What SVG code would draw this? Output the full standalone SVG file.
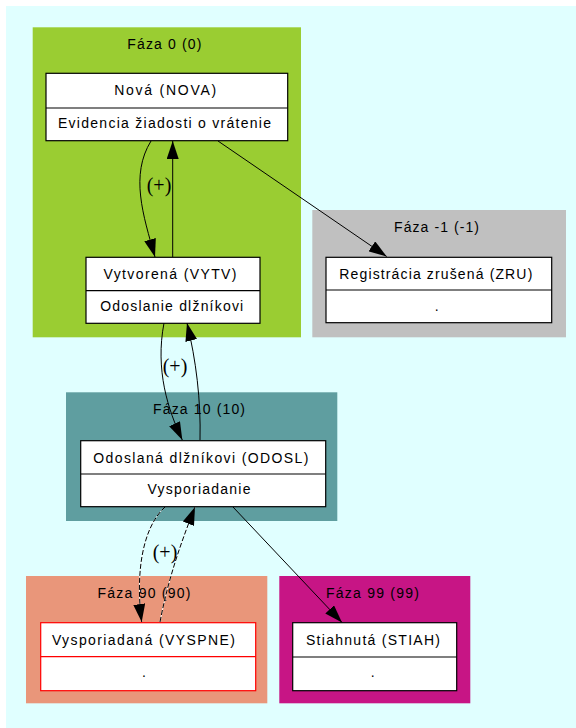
<svg xmlns="http://www.w3.org/2000/svg" width="576" height="728" viewBox="0 0 576 728">
  <style>
    .bg { fill: #e0ffff; }
    .title { font-family: "Liberation Sans", Arial, sans-serif; font-size: 14px; fill: #000; text-anchor: middle; }
    .box { fill: #ffffff; stroke: #000; stroke-width: 1.2; }
    .box-red { fill: #ffffff; stroke: #ff0000; stroke-width: 1.2; }
    .sep { stroke: #000; stroke-width: 1.2; }
    .sep-red { stroke: #ff0000; stroke-width: 1.2; }
    .lbl { font-family: "Liberation Sans", Arial, sans-serif; font-size: 14px; fill: #000; text-anchor: middle; }
    .edge { fill: none; stroke: #000; stroke-width: 1; }
    .under { fill: none; stroke: #ffffff; stroke-width: 1; }
    .dash { stroke-dasharray: 5 2; }
    .elbl { font-family: "Liberation Serif", "Times New Roman", serif; font-size: 20px; fill: #000; text-anchor: middle; }
  </style>
  <defs>
    <marker id="arrow" markerUnits="userSpaceOnUse" markerWidth="18" markerHeight="12" refX="18" refY="6" orient="auto">
      <path d="M0,0 L18,6 L0,12 z" fill="#000"/>
    </marker>
  </defs>

  <rect class="bg" x="6" y="6" width="570" height="722"/>

  <!-- phase clusters -->
  <g id="cluster-0">
    <rect x="32.7" y="27.3" width="268.3" height="310" fill="#9acd32"/>
    <text class="title" x="164.3" y="49.3" textLength="74" lengthAdjust="spacing">Fáza 0 (0)</text>
  </g>
  <g id="cluster-m1">
    <rect x="312.3" y="210" width="253.7" height="127.3" fill="#c0c0c0"/>
    <text class="title" x="436.5" y="232" textLength="85" lengthAdjust="spacing">Fáza -1 (-1)</text>
  </g>
  <g id="cluster-10">
    <rect x="66" y="392.3" width="271.3" height="128.7" fill="#5f9ea0"/>
    <text class="title" x="199" y="414.3" textLength="92" lengthAdjust="spacing">Fáza 10 (10)</text>
  </g>
  <g id="cluster-90">
    <rect x="26" y="576" width="241.3" height="127.3" fill="#e9967a"/>
    <text class="title" x="144" y="598" textLength="93" lengthAdjust="spacing">Fáza 90 (90)</text>
  </g>
  <g id="cluster-99">
    <rect x="279.3" y="576" width="191" height="127.3" fill="#c71585"/>
    <text class="title" x="372.5" y="598" textLength="93" lengthAdjust="spacing">Fáza 99 (99)</text>
  </g>

  <!-- states -->
  <g id="NOVA">
    <rect class="box" x="46" y="73.3" width="241.7" height="67.4"/>
    <line class="sep" x1="46" y1="108" x2="287.7" y2="108"/>
    <text class="lbl" x="165.2" y="94.5" textLength="102" lengthAdjust="spacing">Nová (NOVA)</text>
    <text class="lbl" x="164.5" y="128" textLength="213" lengthAdjust="spacing">Evidencia žiadosti o vrátenie</text>
  </g>
  <g id="VYTV">
    <rect class="box" x="86" y="257.3" width="174" height="66"/>
    <line class="sep" x1="86" y1="290.7" x2="260" y2="290.7"/>
    <text class="lbl" x="170" y="279" textLength="133" lengthAdjust="spacing">Vytvorená (VYTV)</text>
    <text class="lbl" x="171.7" y="310.7" textLength="143" lengthAdjust="spacing">Odoslanie dlžníkovi</text>
  </g>
  <g id="ZRU">
    <rect class="box" x="326" y="257.3" width="225.7" height="65.4"/>
    <line class="sep" x1="326" y1="290" x2="551.7" y2="290"/>
    <text class="lbl" x="435.8" y="279" textLength="193" lengthAdjust="spacing">Registrácia zrušená (ZRU)</text>
    <text class="lbl" x="436.7" y="310.5">.</text>
  </g>
  <g id="ODOSL">
    <rect class="box" x="80.7" y="440.7" width="245" height="66"/>
    <line class="sep" x1="80.7" y1="474" x2="325.7" y2="474"/>
    <text class="lbl" x="200.8" y="462.5" textLength="215" lengthAdjust="spacing">Odoslaná dlžníkovi (ODOSL)</text>
    <text class="lbl" x="199" y="494.3" textLength="103" lengthAdjust="spacing">Vysporiadanie</text>
  </g>
  <g id="VYSPNE">
    <rect class="box-red" x="40.7" y="622.7" width="215" height="68"/>
    <line class="sep-red" x1="40.7" y1="656.7" x2="255.7" y2="656.7"/>
    <text class="lbl" x="143.4" y="644.5" textLength="183" lengthAdjust="spacing">Vysporiadaná (VYSPNE)</text>
    <text class="lbl" x="144" y="677">.</text>
  </g>
  <g id="STIAH">
    <rect class="box" x="292.7" y="622.7" width="164" height="68"/>
    <line class="sep" x1="292.7" y1="657" x2="456.7" y2="657"/>
    <text class="lbl" x="373" y="644.5" textLength="134" lengthAdjust="spacing">Stiahnutá (STIAH)</text>
    <text class="lbl" x="372.7" y="677">.</text>
  </g>

  <!-- transitions -->
  <g id="edges">
    <path class="edge" d="M151,141 C130,175 143,215 155,257" marker-end="url(#arrow)"/>
    <text class="elbl" x="159" y="192">(+)</text>
    <path class="edge" d="M172.7,257 L172.7,141" marker-end="url(#arrow)"/>
    <path class="edge" d="M218,141 L386.7,256.5" marker-end="url(#arrow)"/>

    <path class="edge" d="M164,323 C155,370 168,410 182.3,440" marker-end="url(#arrow)"/>
    <text class="elbl" x="175" y="373">(+)</text>
    <path class="edge" d="M200,440 C201,400 196,360 187,323" marker-end="url(#arrow)"/>

    <path class="under" d="M165,507 C140,530 136,580 141.7,622"/>
    <path class="edge dash" d="M165,507 C140,530 136,580 141.7,622" marker-end="url(#arrow)"/>
    <text class="elbl" x="165" y="559">(+)</text>
    <path class="under" d="M160,622 C168,580 180,545 195,507"/>
    <path class="edge dash" d="M160,622 C168,580 180,545 195,507" marker-end="url(#arrow)"/>

    <path class="edge" d="M233,507 L342,622.5" marker-end="url(#arrow)"/>
  </g>
</svg>
